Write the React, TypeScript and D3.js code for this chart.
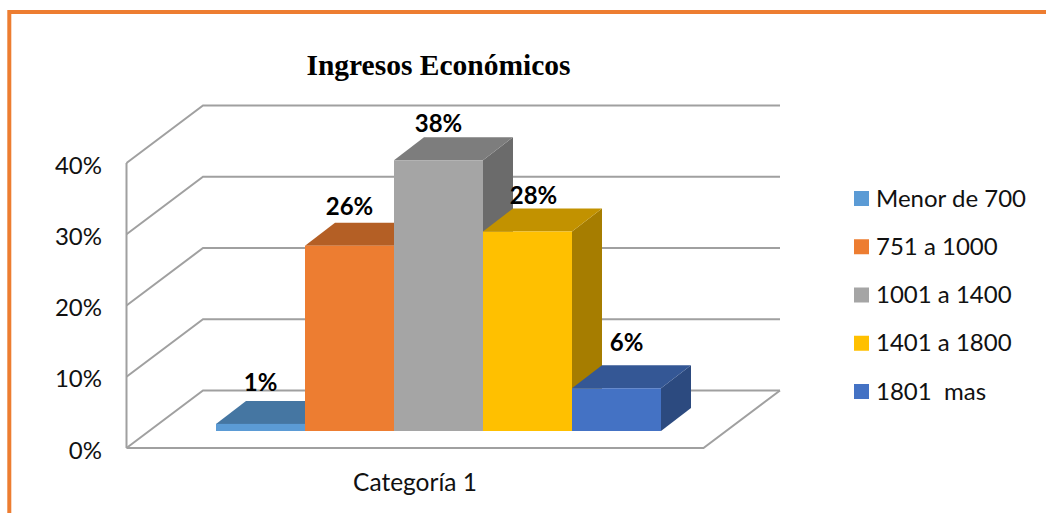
import React from 'react';
import * as d3 from 'd3';

const seriesNames = ['Menor de 700', '751 a 1000', '1001 a 1400', '1401 a 1800', '1801  mas'];
const seriesValues = [1, 26, 38, 28, 6];
const seriesColors = ['#5B9BD5', '#ED7D31', '#A5A5A5', '#FFC000', '#4472C4'];
const yTicks = [0, 10, 20, 30, 40];
const category = 'Categoría 1';
const title = 'Ingresos Económicos';

const width = 1046;
const height = 513;
const font = 'Lato, sans-serif';

// front wall of the 3D box, the back wall is shifted by depth
const y = d3.scaleLinear().domain([0, 40]).range([448, 163]);
const x = d3.scaleBand<string>().domain(seriesNames).range([216, 661]);
const depth = { x: 76.5, y: -57.5 };
const barDepth = { x: 30, y: -23 };
const barBase = 431;
const plotLeft = 126.5;
const plotRight = 703.5;

const legendY = d3.scalePoint<string>().domain(seriesNames).range([198.5, 391.5]);

// label anchors relative to the top of each bar
const labelShift = [
  { x: 0, y: -33 },
  { x: 0, y: -31 },
  { x: 0, y: -28 },
  { x: 6, y: -28 },
  { x: 10, y: -37 },
];

const poly = (pts: [number, number][]) => pts.map((p) => p.join(',')).join(' ');
const shade = (c: string, k: number) => {
  const r = d3.rgb(c);
  return d3.rgb(r.r * k, r.g * k, r.b * k).formatHex();
};

const App: React.FC = () => {
  const barTop = (v: number) => barBase - (y(0) - y(v));

  return (
    <svg
      width={width}
      height={height}
      style={{ position: 'absolute', left: 0, top: 0, display: 'block', background: '#fff' }}
    >
      {/* orange frame */}
      <path d={`M9.3,${height} V12 H${width}`} fill="none" stroke="#ED7D31" strokeWidth={4} />

      <text
        x={438.5}
        y={74.5}
        textAnchor="middle"
        fontFamily="'Liberation Serif', serif"
        fontWeight="bold"
        fontSize={29.5}
        fill="#000"
      >
        {title}
      </text>

      {/* walls and floor */}
      <g fill="none" stroke="#A0A0A0" strokeWidth={2}>
        {yTicks.map((t) => (
          <polyline
            key={t}
            points={poly([
              [plotLeft, y(t)],
              [plotLeft + depth.x, y(t) + depth.y],
              [plotRight + depth.x, y(t) + depth.y],
            ])}
          />
        ))}
        <line x1={plotLeft} x2={plotLeft} y1={y(0)} y2={y(40)} />
        <polyline
          points={poly([
            [plotLeft, y(0)],
            [plotRight, y(0)],
            [plotRight + depth.x, y(0) + depth.y],
          ])}
        />
      </g>

      {yTicks.map((t) => (
        <text
          key={t}
          x={102}
          y={y(t) + 10.5}
          textAnchor="end"
          fontFamily={font}
          fontSize={24}
          fill="#111"
        >
          {t}%
        </text>
      ))}

      {/* bars, left to right so each one covers the side of the previous */}
      {seriesNames.map((name, i) => {
        const x0 = x(name)!;
        const x1 = x0 + x.bandwidth();
        const top = barTop(seriesValues[i]);
        const c = seriesColors[i];
        return (
          <g key={name}>
            <polygon
              fill={shade(c, 0.65)}
              points={poly([
                [x1, top],
                [x1 + barDepth.x, top + barDepth.y],
                [x1 + barDepth.x, barBase + barDepth.y],
                [x1, barBase],
              ])}
            />
            <polygon
              fill={shade(c, 0.76)}
              points={poly([
                [x0, top],
                [x0 + barDepth.x, top + barDepth.y],
                [x1 + barDepth.x, top + barDepth.y],
                [x1, top],
              ])}
            />
            <rect x={x0} y={top} width={x.bandwidth()} height={barBase - top} fill={c} />
          </g>
        );
      })}

      {seriesNames.map((name, i) => (
        <text
          key={name}
          x={x(name)! + x.bandwidth() / 2 + labelShift[i].x}
          y={barTop(seriesValues[i]) + labelShift[i].y}
          textAnchor="middle"
          fontFamily={font}
          fontWeight="bold"
          fontSize={24}
          fill="#000"
        >
          {seriesValues[i]}%
        </text>
      ))}

      <text x={415} y={491} textAnchor="middle" fontFamily={font} fontSize={24.5} fill="#111">
        {category}
      </text>

      {seriesNames.map((name, i) => (
        <g key={name}>
          <rect x={854} y={legendY(name)! - 7.5} width={15} height={15} fill={seriesColors[i]} />
          <text
            x={876}
            y={legendY(name)! + 8}
            fontFamily={font}
            fontSize={24}
            fill="#111"
            style={{ whiteSpace: 'pre' }}
          >
            {name}
          </text>
        </g>
      ))}
    </svg>
  );
};

export default App;
